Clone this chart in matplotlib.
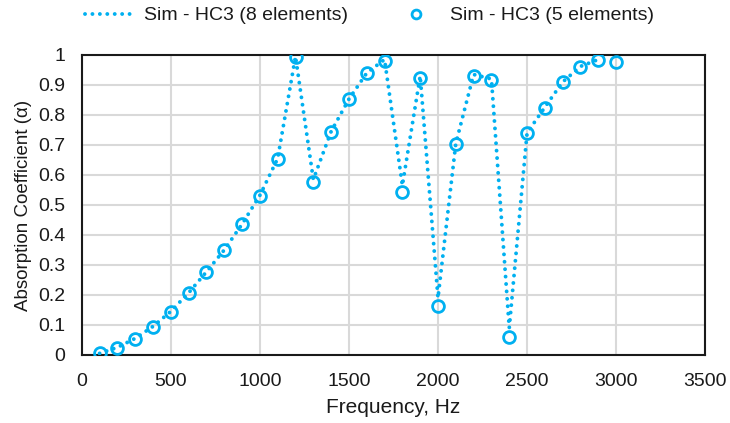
import numpy as np
import matplotlib
matplotlib.use('Agg')
import matplotlib.pyplot as plt

plt.rcParams['font.family'] = ['Liberation Sans', 'DejaVu Sans']

# Sim - HC3 (8 elements), dotted line
freq_8 = [100, 200, 300, 400, 500, 600, 700, 800, 900, 1000,
          1100, 1200, 1300, 1400, 1500, 1600, 1700, 1800, 1900, 2000,
          2100, 2200, 2300, 2400, 2500, 2600, 2700, 2800, 2900]
alpha_8 = [0.005, 0.025, 0.055, 0.095, 0.145, 0.207, 0.277, 0.350, 0.436, 0.532,
           0.655, 0.995, 0.585, 0.745, 0.853, 0.940, 0.985, 0.565, 0.930, 0.190,
           0.705, 0.935, 0.920, 0.090, 0.740, 0.826, 0.910, 0.962, 0.985]

# Sim - HC3 (5 elements), open circles
freq_5 = [100, 200, 300, 400, 500, 600, 700, 800, 900, 1000,
          1100, 1200, 1300, 1400, 1500, 1600, 1700, 1800, 1900, 2000,
          2100, 2200, 2300, 2400, 2500, 2600, 2700, 2800, 2900, 3000]
alpha_5 = [0.006, 0.022, 0.053, 0.094, 0.144, 0.206, 0.276, 0.350, 0.436, 0.531,
           0.653, 0.992, 0.576, 0.742, 0.852, 0.939, 0.981, 0.544, 0.924, 0.164,
           0.702, 0.930, 0.917, 0.061, 0.739, 0.824, 0.909, 0.961, 0.983, 0.978]

blue = '#00B0F0'

fig = plt.figure(figsize=(7.3, 4.23), dpi=100)
ax = fig.add_axes([0.112, 0.161, 0.854, 0.709])

ax.plot(freq_8, alpha_8, color=blue, lw=2.8, linestyle=(0, (0.01, 1.9)),
        dash_capstyle='round', label='Sim - HC3 (8 elements)', zorder=3)
ax.plot(freq_5, alpha_5, linestyle='none', marker='o', ms=8.5, mfc='none',
        mec=blue, mew=2.0, label='Sim - HC3 (5 elements)', zorder=4)

ax.set_xlim(0, 3500)
ax.set_ylim(0, 1)
ax.set_xticks(np.arange(0, 3501, 500))
ax.set_yticks(np.arange(0, 1.01, 0.1))
ax.set_yticklabels(['0'] + [f'{v:.1f}' for v in np.arange(0.1, 0.95, 0.1)] + ['1'])
ax.grid(True, color='#D9D9D9', lw=1.5)
ax.set_axisbelow(True)
ax.tick_params(length=0, labelsize=14, colors='#1a1a1a')
ax.tick_params(axis='y', pad=12)
ax.tick_params(axis='x', pad=13)
for s in ax.spines.values():
    s.set_linewidth(1.5)
    s.set_color('#1a1a1a')

ax.set_xlabel('Frequency, Hz', fontsize=15, labelpad=6, color='#1a1a1a')
ax.set_ylabel('Absorption Coefficient (\u03b1)', fontsize=13.5, labelpad=4, color='#1a1a1a')

fig.legend(loc='center', bbox_to_anchor=(0.506, 0.963), ncol=2, frameon=False,
           fontsize=14, handlelength=2.6, handletextpad=0.45, columnspacing=2.2,
           markerscale=0.75, labelcolor='#1a1a1a')

fig.savefig('out.png', dpi=100)
